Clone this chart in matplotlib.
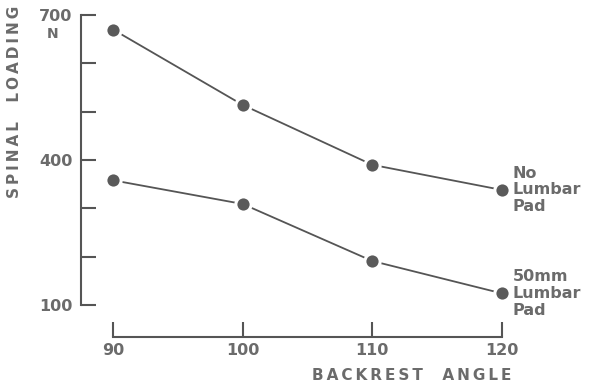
import matplotlib
matplotlib.use("Agg")
import matplotlib.pyplot as plt

angles = [90, 100, 110, 120]
no_pad = [670, 514, 390, 338]
pad_50mm = [358, 309, 191, 124]
series_labels = ["No\nLumbar\nPad", "50mm\nLumbar\nPad"]
y_ticks = [100, 200, 300, 400, 500, 600, 700]
y_ticklabels = ["100", "", "", "400", "", "", "700"]
x_ticks = [90, 100, 110, 120]
y_title = "SPINAL  LOADING"
x_title = "BACKREST  ANGLE"

W, H = 590, 389
fig = plt.figure(figsize=(W / 100, H / 100), dpi=100)
fig.patch.set_facecolor("white")

left_px, top_px, bot_px, right_px = 81, 15, 337, 590
ax = fig.add_axes([left_px / W, 1 - bot_px / H, (right_px - left_px) / W, (bot_px - top_px) / H])

px_per_unit_y = (305 - 15) / 600
ymin = 100 - (bot_px - 305) / px_per_unit_y
ax.set_ylim(ymin, 700)
px_per_unit_x = (502 - 113) / 30
ax.set_xlim(90 - (113 - left_px) / px_per_unit_x, 120 + (right_px - 502) / px_per_unit_x)

tc = "#6b6b6b"
lc = "#555555"
for ys in (no_pad, pad_50mm):
    ax.plot(angles, ys, color=lc, lw=1.3, zorder=2)
    ax.plot(angles, ys, 'o', color="#5a5a5a", ms=11, mec="white", mew=2.2, zorder=3, clip_on=False)

for sp in ("top", "right"):
    ax.spines[sp].set_visible(False)
ax.spines["left"].set_bounds(100, 700)
ax.spines["bottom"].set_bounds(90, 120)
for sp in ("left", "bottom"):
    ax.spines[sp].set_color(lc)
    ax.spines[sp].set_linewidth(1.5)

ax.set_yticks(y_ticks)
ax.set_yticklabels(y_ticklabels)
ax.set_xticks(x_ticks)
ax.set_xticklabels([str(v) for v in x_ticks])
ax.tick_params(axis="y", direction="in", length=11, width=1.5, color=lc, pad=6,
               labelsize=11.5, labelcolor=tc)
ax.tick_params(axis="x", direction="in", length=11, width=1.5, color=lc, pad=4,
               labelsize=11.5, labelcolor=tc)
for lab in ax.get_xticklabels() + ax.get_yticklabels():
    lab.set_fontweight("bold")

ax.text(-0.055, 660, "N", transform=ax.get_yaxis_transform(), ha="center", va="center",
        fontsize=10, fontweight="bold", color=tc)

lx = 120 + (513 - 502) / px_per_unit_x
for ys, lab in ((no_pad, series_labels[0]), (pad_50mm, series_labels[1])):
    ax.text(lx, ys[-1], lab, ha="left", va="center", fontsize=11.5,
            fontweight="bold", color=tc, linespacing=1.15, clip_on=False)

sp_chr = "\u2009"
def spaced(s):
    return sp_chr.join(list(s))

fig.text(15 / W, 1 - 102 / H, spaced(y_title), rotation=90, ha="center", va="center",
         fontsize=11, fontweight="bold", color=tc)
fig.text(412 / W, 1 - 376 / H, spaced(x_title), ha="center", va="center",
         fontsize=11, fontweight="bold", color=tc)

fig.savefig("out.png", dpi=100, facecolor="white")
